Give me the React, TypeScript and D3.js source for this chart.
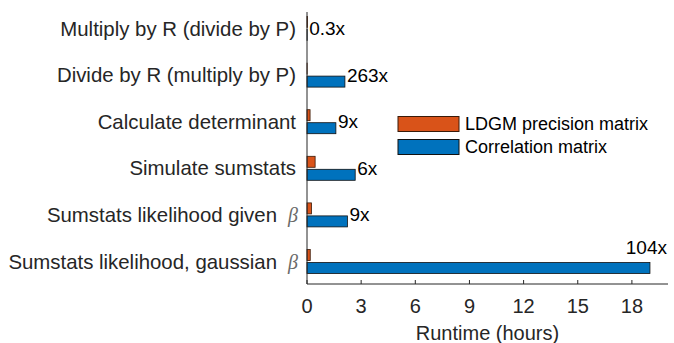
import React from "react";
import * as d3 from "d3";

const categories = [
  "Multiply by R (divide by P)",
  "Divide by R (multiply by P)",
  "Calculate determinant",
  "Simulate sumstats",
  "Sumstats likelihood given",
  "Sumstats likelihood, gaussian",
];
const hasBeta = [false, false, false, false, true, true];
const ldgmHours = [0.03, 0.008, 0.17, 0.45, 0.25, 0.18];
const corrHours = [0.01, 2.1, 1.6, 2.67, 2.24, 19.0];
const speedupLabels = ["0.3x", "263x", "9x", "6x", "9x", "104x"];
const xTicks = [0, 3, 6, 9, 12, 15, 18];
const seriesNames = ["LDGM precision matrix", "Correlation matrix"];
const colors = ["#D95319", "#0072BD"];

const W = 674;
const H = 343;
const FONT = "'Liberation Sans', Arial, Helvetica, sans-serif";
const FS = 20;
const TXT = "#262626";

export default function App() {
  const x = d3.scaleLinear().domain([0, 20]).range([307, 668]);
  const y = d3.scaleLinear().domain([0, categories.length - 1]).range([28.5, 261.5]);
  const axisTop = 12;
  const axisBottom = 284;
  const barH = 11;
  const off = 6.5;

  return (
    <svg
      width={W}
      height={H}
      style={{ position: "absolute", left: 0, top: 0, background: "#fff" }}
      fontFamily={FONT}
    >
      {/* bars */}
      {categories.map((c, i) => {
        const cy = y(i);
        return (
          <g key={c}>
            <rect
              x={x(0)}
              y={cy - off - barH / 2}
              width={x(ldgmHours[i]) - x(0)}
              height={barH}
              fill={colors[0]}
              stroke="#3a1a08"
              strokeWidth={0.8}
            />
            <rect
              x={x(0)}
              y={cy + off - barH / 2}
              width={x(corrHours[i]) - x(0)}
              height={barH}
              fill={colors[1]}
              stroke="#111"
              strokeWidth={0.8}
            />
          </g>
        );
      })}

      {/* axes */}
      <line x1={x(0)} x2={x(0)} y1={axisTop} y2={axisBottom} stroke={TXT} strokeWidth={1} />
      <line x1={x(0)} x2={x.range()[1]} y1={axisBottom} y2={axisBottom} stroke={TXT} strokeWidth={1} />
      {xTicks.map((t) => (
        <g key={t}>
          <line x1={x(t)} x2={x(t)} y1={axisBottom} y2={axisBottom - 4} stroke={TXT} strokeWidth={1} />
          <text
            x={x(t)}
            y={306}
            textAnchor="middle"
            dominantBaseline="central"
            fontSize={FS}
            fill={TXT}
          >
            {t}
          </text>
        </g>
      ))}
      <text
        x={(x.range()[0] + x.range()[1]) / 2}
        y={333}
        textAnchor="middle"
        dominantBaseline="central"
        fontSize={FS}
        fill={TXT}
      >
        Runtime (hours)
      </text>

      {/* category labels */}
      {categories.map((c, i) => (
        <g key={c}>
          <text
            x={hasBeta[i] ? 277 : 296}
            y={y(i)}
            textAnchor="end"
            dominantBaseline="central"
            fontSize={20.4}
            fill={TXT}
          >
            {c}
          </text>
          {hasBeta[i] ? (
            <text
              x={298}
              y={y(i)}
              textAnchor="end"
              dominantBaseline="central"
              fontSize={FS}
              fontFamily="'Liberation Serif', 'DejaVu Serif', serif"
              fontStyle="italic"
              fill="#6a6a6a"
            >
              β
            </text>
          ) : null}
        </g>
      ))}

      {/* speedup labels */}
      {categories.map((c, i) => {
        const last = i === categories.length - 1;
        return (
          <text
            key={"s" + c}
            x={last ? 667 : x(corrHours[i]) + 2}
            y={last ? 247 : y(i)}
            textAnchor={last ? "end" : "start"}
            dominantBaseline="central"
            fontSize={19}
            fill="#000"
          >
            {speedupLabels[i]}
          </text>
        );
      })}

      {/* legend */}
      {seriesNames.map((s, i) => (
        <g key={s}>
          <rect
            x={398}
            y={116.5 + i * 23}
            width={61}
            height={15}
            fill={colors[i]}
            stroke={i === 0 ? "#3a1a08" : "#111"}
            strokeWidth={1}
          />
          <text
            x={465}
            y={124 + i * 23}
            dominantBaseline="central"
            fontSize={18}
            fill="#000"
          >
            {s}
          </text>
        </g>
      ))}
    </svg>
  );
}
